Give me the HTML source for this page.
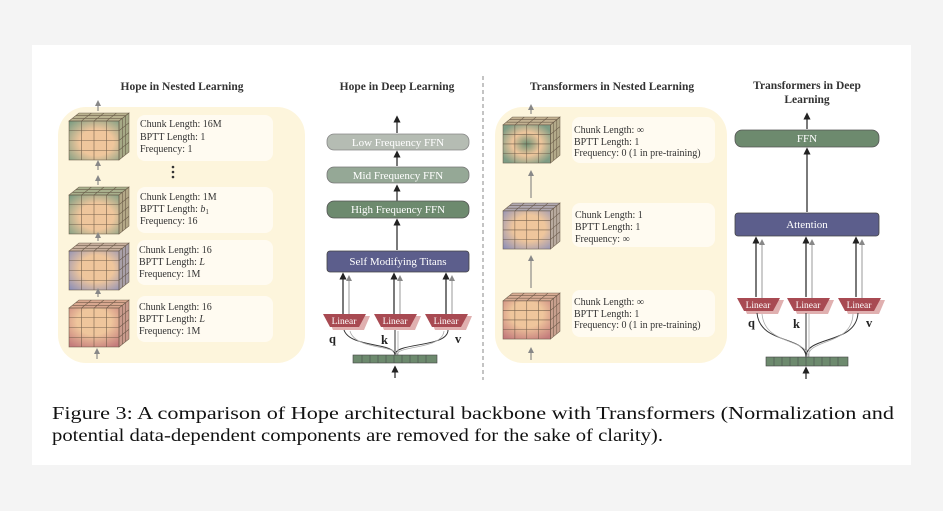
<!DOCTYPE html>
<html><head><meta charset="utf-8"><style>
html,body{margin:0;padding:0;background:#f4f4f4;}
svg{display:block}
</style></head><body>
<svg width="943" height="511" viewBox="0 0 943 511" xmlns="http://www.w3.org/2000/svg" font-family="Liberation Serif, serif">
<defs>
<radialGradient id="gG" cx="0.55" cy="0.55" r="0.75"><stop offset="0.45" stop-color="#efc69c"/><stop offset="1" stop-color="#7a9c82"/></radialGradient>
<radialGradient id="gB" cx="0.55" cy="0.45" r="0.75"><stop offset="0.45" stop-color="#efc69c"/><stop offset="1" stop-color="#8c8fb8"/></radialGradient>
<radialGradient id="gR" cx="0.5" cy="0.35" r="0.75"><stop offset="0.45" stop-color="#efc69c"/><stop offset="1" stop-color="#c47c7c"/></radialGradient>
<radialGradient id="gD" cx="0.5" cy="0.5" r="0.6"><stop offset="0" stop-color="#6f9276"/><stop offset="0.5" stop-color="#efc69c"/><stop offset="1" stop-color="#7e9c84"/></radialGradient>
<g id="grid" stroke="#5a4a3a" stroke-width="0.6" fill="none" opacity="0.8">
<rect x="0" y="8" width="50" height="39"/>
<path d="M12.5 8V47M25 8V47M37.5 8V47M0 17.75H50M0 27.5H50M0 37.25H50"/>
<path d="M0 8L10 0H60L50 8ZM12.5 8L22.5 0M25 8L35 0M37.5 8L47.5 0M3.3 5.3H53.3M6.6 2.6H56.6"/>
<path d="M50 8L60 0V39L50 47ZM53.3 5.3V44.3M56.6 2.6V41.6M50 17.75L60 9.75M50 27.5L60 19.5M50 37.25L60 29.25"/>
</g>
<marker id="ah" markerWidth="6" markerHeight="6" refX="3" refY="3" orient="auto"><path d="M0,0L6,3L0,6Z" fill="#222"/></marker>
<marker id="ahg" markerWidth="6" markerHeight="6" refX="3" refY="3" orient="auto"><path d="M0,0L6,3L0,6Z" fill="#888"/></marker>
</defs>
<rect x="0" y="0" width="943" height="511" rx="18" fill="#f4f4f4"/>
<rect x="32" y="45" width="879" height="420" fill="#fff"/>

<g font-size="11.5" font-weight="bold" fill="#333" text-anchor="middle">
<text x="182" y="90">Hope in Nested Learning</text>
<text x="397" y="90">Hope in Deep Learning</text>
<text x="612" y="90">Transformers in Nested Learning</text>
<text x="807" y="89">Transformers in Deep</text>
<text x="807" y="103">Learning</text>
</g>

<rect x="58" y="107" width="247" height="256" rx="28" fill="#fdf5dc"/>
<g fill="#fffbf1">
<rect x="137" y="115" width="136" height="46" rx="8"/>
<rect x="137" y="187" width="136" height="46" rx="8"/>
<rect x="137" y="240" width="136" height="45" rx="8"/>
<rect x="137" y="296" width="136" height="46" rx="8"/>
</g>
<g transform="translate(69,113)"><rect x="0" y="8" width="50" height="39" fill="url(#gG)"/><path d="M0 8L10 0H60L50 8Z" fill="#b9b28f"/><path d="M50 8L60 0V39L50 47Z" fill="#a6a986"/><use href="#grid"/></g>
<g transform="translate(69,187)"><rect x="0" y="8" width="50" height="39" fill="url(#gG)"/><path d="M0 8L10 0H60L50 8Z" fill="#a9b08d"/><path d="M50 8L60 0V39L50 47Z" fill="#b3a887"/><use href="#grid"/></g>
<g transform="translate(69,243)"><rect x="0" y="8" width="50" height="39" fill="url(#gB)"/><path d="M0 8L10 0H60L50 8Z" fill="#c8b09e"/><path d="M50 8L60 0V39L50 47Z" fill="#a9a0a8"/><use href="#grid"/></g>
<g transform="translate(69,300)"><rect x="0" y="8" width="50" height="39" fill="url(#gR)"/><path d="M0 8L10 0H60L50 8Z" fill="#d9a890"/><path d="M50 8L60 0V39L50 47Z" fill="#c99a8c"/><use href="#grid"/></g>
<g stroke="#777" stroke-width="1" marker-end="url(#ahg)">
<line x1="98" y1="111" x2="98" y2="103"/><line x1="98" y1="170" x2="98" y2="163"/>
<line x1="98" y1="185" x2="98" y2="178"/><line x1="98" y1="241" x2="98" y2="235"/>
<line x1="98" y1="297" x2="98" y2="291"/><line x1="97" y1="359" x2="97" y2="351"/>
</g>
<g fill="#333"><circle cx="173" cy="167" r="1.3"/><circle cx="173" cy="172" r="1.3"/><circle cx="173" cy="177" r="1.3"/></g>
<g font-size="10" fill="#333">
<text x="140" y="127">Chunk Length: 16M</text><text x="140" y="140">BPTT Length: 1</text><text x="140" y="152">Frequency: 1</text>
<text x="140" y="200">Chunk Length: 1M</text><text x="140" y="212">BPTT Length: <tspan font-style="italic">b</tspan><tspan font-size="7" dy="2">1</tspan></text><text x="140" y="224">Frequency: 16</text>
<text x="139" y="253">Chunk Length: 16</text><text x="139" y="265">BPTT Length: <tspan font-style="italic">L</tspan></text><text x="139" y="277">Frequency: 1M</text>
<text x="139" y="310">Chunk Length: 16</text><text x="139" y="322">BPTT Length: <tspan font-style="italic">L</tspan></text><text x="139" y="334">Frequency: 1M</text>
</g>

<g stroke="#222" stroke-width="1.2" marker-end="url(#ah)">
<line x1="397" y1="133" x2="397" y2="119"/><line x1="397" y1="166" x2="397" y2="154"/>
<line x1="397" y1="201" x2="397" y2="188"/><line x1="397" y1="250" x2="397" y2="222"/>
</g>
<rect x="327" y="134" width="142" height="16" rx="7" fill="#b5bcb3" stroke="#888" stroke-width="0.8"/>
<rect x="327" y="167" width="142" height="16" rx="7" fill="#95a896" stroke="#777" stroke-width="0.8"/>
<rect x="327" y="201" width="142" height="17" rx="7" fill="#6d8a6e" stroke="#555" stroke-width="0.8"/>
<rect x="327" y="251" width="142" height="21" rx="3" fill="#5c5e8c" stroke="#444" stroke-width="0.8"/>
<g font-size="11" fill="#fff" text-anchor="middle">
<text x="398" y="146">Low Frequency FFN</text><text x="398" y="179">Mid Frequency FFN</text>
<text x="398" y="213">High Frequency FFN</text><text x="398" y="265">Self Modifying Titans</text>
</g>
<g stroke="#222" stroke-width="1.2" marker-end="url(#ah)">
<line x1="343" y1="314" x2="343" y2="276"/><line x1="394" y1="314" x2="394" y2="276"/><line x1="446" y1="314" x2="446" y2="276"/>
</g>
<g stroke="#999" stroke-width="1" marker-end="url(#ahg)">
<line x1="349" y1="318" x2="349" y2="278"/><line x1="400" y1="318" x2="400" y2="278"/><line x1="452" y1="318" x2="452" y2="278"/>
</g>
<path d="M327 316H370L364 330H333Z" fill="#e0b0b0"/><path d="M323 314H366L359 327H330Z" fill="#a84a52"/>
<path d="M378 316H421L415 330H384Z" fill="#e0b0b0"/><path d="M374 314H417L410 327H381Z" fill="#a84a52"/>
<path d="M429 316H472L466 330H435Z" fill="#e0b0b0"/><path d="M425 314H468L461 327H432Z" fill="#a84a52"/>
<g font-size="9.5" fill="#fff" text-anchor="middle"><text x="344" y="324">Linear</text><text x="395" y="324">Linear</text><text x="446" y="324">Linear</text></g>
<g fill="none" stroke="#333" stroke-width="1">
<path d="M395 355C395 342 350 348 344 330"/><path d="M395 355C395 342 448 348 448 330"/><path d="M395 355V330"/>
</g>
<g fill="none" stroke="#aaa" stroke-width="0.8"><path d="M397 355C397 345 355 350 350 331"/><path d="M397 355C397 345 442 350 444 331"/><path d="M398 355V331"/></g>
<g font-size="12.5" font-weight="bold" fill="#222"><text x="329" y="343">q</text><text x="381" y="344">k</text><text x="455" y="343">v</text></g>
<rect x="353" y="355" width="84" height="8" fill="#6d8a6e" stroke="#444" stroke-width="0.6"/>
<path d="M362 355v8M370 355v8M378 355v8M386 355v8M394 355v8M402 355v8M410 355v8M418 355v8M426 355v8" stroke="#444" stroke-width="0.5"/>
<line x1="395" y1="378" x2="395" y2="369" stroke="#222" stroke-width="1.2" marker-end="url(#ah)"/>

<line x1="483" y1="76" x2="483" y2="380" stroke="#888" stroke-width="1" stroke-dasharray="4,3"/>

<rect x="495" y="107" width="232" height="256" rx="28" fill="#fdf5dc"/>
<g fill="#fffbf1">
<rect x="572" y="117" width="143" height="46" rx="8"/>
<rect x="572" y="203" width="143" height="44" rx="8"/>
<rect x="572" y="290" width="143" height="47" rx="8"/>
</g>
<g transform="translate(503,117) scale(0.95,0.98)"><rect x="0" y="8" width="50" height="39" fill="url(#gD)"/><path d="M0 8L10 0H60L50 8Z" fill="#c3b292"/><path d="M50 8L60 0V39L50 47Z" fill="#b3aa8a"/><use href="#grid"/></g>
<g transform="translate(503,203) scale(0.95,0.98)"><rect x="0" y="8" width="50" height="39" fill="url(#gB)"/><path d="M0 8L10 0H60L50 8Z" fill="#b0a8b0"/><path d="M50 8L60 0V39L50 47Z" fill="#b8aa9e"/><use href="#grid"/></g>
<g transform="translate(503,293) scale(0.95,0.98)"><rect x="0" y="8" width="50" height="39" fill="url(#gR)"/><path d="M0 8L10 0H60L50 8Z" fill="#d8ad95"/><path d="M50 8L60 0V39L50 47Z" fill="#c8a08e"/><use href="#grid"/></g>
<g stroke="#777" stroke-width="1" marker-end="url(#ahg)">
<line x1="531" y1="114" x2="531" y2="107"/><line x1="531" y1="198" x2="531" y2="173"/>
<line x1="531" y1="288" x2="531" y2="258"/><line x1="531" y1="360" x2="531" y2="350"/>
</g>
<g font-size="10" fill="#333">
<text x="574" y="133">Chunk Length: ∞</text><text x="574" y="145">BPTT Length: 1</text><text x="574" y="156">Frequency: 0 (1 in pre-training)</text>
<text x="575" y="218">Chunk Length: 1</text><text x="575" y="230">BPTT Length: 1</text><text x="575" y="242">Frequency: ∞</text>
<text x="574" y="305">Chunk Length: ∞</text><text x="574" y="317">BPTT Length: 1</text><text x="574" y="328">Frequency: 0 (1 in pre-training)</text>
</g>

<g stroke="#222" stroke-width="1.2" marker-end="url(#ah)">
<line x1="807" y1="129" x2="807" y2="116"/><line x1="807" y1="212" x2="807" y2="151"/>
<line x1="756" y1="297" x2="756" y2="240"/><line x1="806" y1="297" x2="806" y2="240"/><line x1="856" y1="297" x2="856" y2="240"/>
</g>
<g stroke="#999" stroke-width="1" marker-end="url(#ahg)">
<line x1="762" y1="300" x2="762" y2="242"/><line x1="812" y1="300" x2="812" y2="242"/><line x1="862" y1="300" x2="862" y2="242"/>
</g>
<rect x="735" y="130" width="144" height="17" rx="7" fill="#6d8a6e" stroke="#555" stroke-width="0.8"/>
<rect x="735" y="213" width="144" height="23" rx="3" fill="#5c5e8c" stroke="#444" stroke-width="0.8"/>
<g font-size="11" fill="#fff" text-anchor="middle"><text x="807" y="142">FFN</text><text x="807" y="228">Attention</text></g>
<path d="M741 300H784L778 314H747Z" fill="#e0b0b0"/><path d="M737 298H780L773 311H744Z" fill="#a84a52"/>
<path d="M791 300H834L828 314H797Z" fill="#e0b0b0"/><path d="M787 298H830L823 311H794Z" fill="#a84a52"/>
<path d="M842 300H885L879 314H848Z" fill="#e0b0b0"/><path d="M838 298H881L874 311H845Z" fill="#a84a52"/>
<g font-size="9.5" fill="#fff" text-anchor="middle"><text x="758" y="308">Linear</text><text x="808" y="308">Linear</text><text x="859" y="308">Linear</text></g>
<g fill="none" stroke="#333" stroke-width="1">
<path d="M806 357C806 335 760 345 757 313"/><path d="M806 357C806 335 856 345 858 313"/><path d="M806 357V313"/>
</g>
<g fill="none" stroke="#aaa" stroke-width="0.8"><path d="M808 357C808 338 765 346 762 314"/><path d="M808 357C808 338 852 346 853 314"/><path d="M809 357V314"/></g>
<g font-size="12.5" font-weight="bold" fill="#222"><text x="748" y="327">q</text><text x="793" y="328">k</text><text x="866" y="327">v</text></g>
<rect x="766" y="357" width="82" height="9" fill="#6d8a6e" stroke="#444" stroke-width="0.6"/>
<path d="M774 357v9M782 357v9M790 357v9M798 357v9M806 357v9M814 357v9M822 357v9M830 357v9M838 357v9" stroke="#444" stroke-width="0.5"/>
<line x1="806" y1="379" x2="806" y2="370" stroke="#222" stroke-width="1.2" marker-end="url(#ah)"/>

<g font-size="18" fill="#111">
<text x="52" y="419" textLength="842" lengthAdjust="spacingAndGlyphs">Figure 3:  A comparison of Hope architectural backbone with Transformers (Normalization and</text>
<text x="52" y="441" textLength="611" lengthAdjust="spacingAndGlyphs">potential data-dependent components are removed for the sake of clarity).</text>
</g>
</svg>
</body></html>
